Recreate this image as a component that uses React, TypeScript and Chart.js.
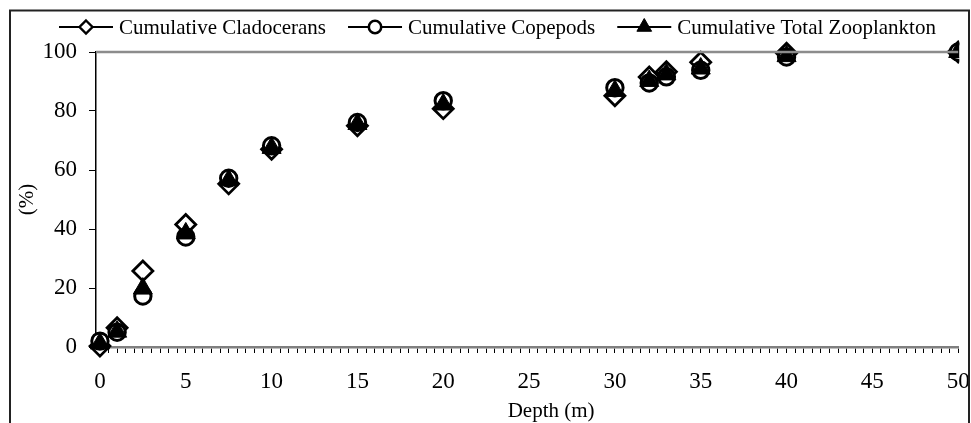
import { useEffect, useRef } from 'react';
import { Chart, registerables } from 'chart.js';

Chart.register(...registerables);

const depths = [0, 1, 2.5, 5, 7.5, 10, 15, 20, 30, 32, 33, 35, 40, 50];
const cladocerans = [0.3, 6.5, 25.8, 41.5, 55.3, 67, 75, 80.8, 85.2, 91.5, 93.3, 96.5, 99.6, 100];
const copepods = [2, 5, 17.3, 37.3, 57.2, 68.2, 76.1, 83.5, 87.9, 89.5, 91.6, 93.8, 98.3, 100];
const totalZoo = [1.2, 5.2, 19.8, 38.5, 56.5, 67.5, 75.6, 82.2, 86.8, 90.2, 92.4, 94.4, 98.6, 100];

const seriesLabels = ['Cumulative Cladocerans', 'Cumulative Copepods', 'Cumulative Total Zooplankton'];
const xMinorTicks = Array.from({ length: 101 }, (_, i) => i * 0.5);
const xLabelStep = 5;
const yTicks = [0, 20, 40, 60, 80, 100];
const xTitle = 'Depth (m)';
const yTitle = '(%)';

const FONT = '"Liberation Serif", "Times New Roman", serif';

function drawMarker(ctx: CanvasRenderingContext2D, style: string, x: number, y: number, r: number) {
  ctx.save();
  ctx.beginPath();
  if (style === 'rectRot') {
    ctx.moveTo(x, y - r);
    ctx.lineTo(x + r, y);
    ctx.lineTo(x, y + r);
    ctx.lineTo(x - r, y);
    ctx.closePath();
    ctx.fillStyle = '#fff';
    ctx.fill();
    ctx.lineWidth = 2.4;
    ctx.strokeStyle = '#000';
    ctx.stroke();
  } else if (style === 'circle') {
    ctx.arc(x, y, r, 0, Math.PI * 2);
    ctx.fillStyle = '#fff';
    ctx.fill();
    ctx.lineWidth = 2.6;
    ctx.strokeStyle = '#000';
    ctx.stroke();
  } else {
    ctx.moveTo(x, y - r);
    ctx.lineTo(x + r * 0.866, y + r * 0.5);
    ctx.lineTo(x - r * 0.866, y + r * 0.5);
    ctx.closePath();
    ctx.fillStyle = '#000';
    ctx.fill();
    ctx.lineWidth = 1;
    ctx.strokeStyle = '#000';
    ctx.stroke();
  }
  ctx.restore();
}

const decorPlugin = {
  id: 'decor',
  afterDraw(chart: any) {
    const ctx: CanvasRenderingContext2D = chart.ctx;
    const { left, right, top, bottom } = chart.chartArea;
    ctx.save();
    // plot top line
    ctx.strokeStyle = '#8c8c8c';
    ctx.lineWidth = 2.5;
    ctx.beginPath();
    ctx.moveTo(left, top);
    ctx.lineTo(right, top);
    ctx.stroke();

    // outer frame
    ctx.strokeStyle = '#222';
    ctx.lineWidth = 2;
    ctx.beginPath();
    ctx.moveTo(10, chart.height + 2);
    ctx.lineTo(10, 10.5);
    ctx.lineTo(969, 10.5);
    ctx.lineTo(969, chart.height + 2);
    ctx.stroke();

    // legend
    ctx.font = `21px ${FONT}`;
    ctx.fillStyle = '#000';
    ctx.textBaseline = 'middle';
    ctx.textAlign = 'left';
    const ly = 27;
    let lx = 59;
    const styles = ['rectRot', 'circle', 'triangle'];
    const sizes = [6.5, 6.2, 8.5];
    seriesLabels.forEach((label, i) => {
      ctx.strokeStyle = '#000';
      ctx.lineWidth = 2;
      ctx.beginPath();
      ctx.moveTo(lx, ly);
      ctx.lineTo(lx + 54, ly);
      ctx.stroke();
      drawMarker(ctx, styles[i], lx + 27, ly, sizes[i]);
      ctx.fillStyle = '#000';
      ctx.fillText(label, lx + 60, ly + 1);
      lx += 60 + ctx.measureText(label).width + 22;
    });

    // axis titles
    ctx.font = `21px ${FONT}`;
    ctx.textAlign = 'center';
    ctx.fillText(xTitle, (left + right) / 2 + 24, 411);
    ctx.translate(27, (top + bottom) / 2);
    ctx.rotate(-Math.PI / 2);
    ctx.fillText(yTitle, 0, 0);
    ctx.restore();
  },
};

export default function App() {
  const ref = useRef<HTMLCanvasElement>(null);
  useEffect(() => {
    const mk = (ys: number[]) => depths.map((x, i) => ({ x, y: ys[i] }));
    const clip = { left: false, top: false, right: 1, bottom: false } as any;
    const chart = new Chart(ref.current as HTMLCanvasElement, {
      type: 'scatter',
      data: {
        datasets: [
          {
            label: seriesLabels[0],
            data: mk(cladocerans),
            pointStyle: 'rectRot',
            pointRadius: 10,
            pointBorderWidth: 2.8,
            backgroundColor: '#fff',
            borderColor: '#000',
            order: 3,
            clip,
          },
          {
            label: seriesLabels[1],
            data: mk(copepods),
            pointStyle: 'circle',
            pointRadius: 8.2,
            pointBorderWidth: 3,
            backgroundColor: '#fff',
            borderColor: '#000',
            order: 2,
            clip,
          },
          {
            label: seriesLabels[2],
            data: mk(totalZoo),
            pointStyle: 'triangle',
            pointRadius: 11,
            pointBorderWidth: 1,
            backgroundColor: '#000',
            borderColor: '#000',
            order: 1,
            clip,
          },
        ],
      },
      options: {
        animation: false,
        responsive: false,
        layout: { padding: { top: 52, right: 3, left: 0, bottom: 0 } },
        plugins: { legend: { display: false }, tooltip: { enabled: false } },
        scales: {
          x: {
            type: 'linear',
            min: -0.23,
            max: 50,
            afterBuildTicks: (s: any) => {
              s.ticks = xMinorTicks.map((v) => ({ value: v }));
            },
            afterFit: (s: any) => {
              s.height = 76;
              s.paddingLeft = 0;
              s.paddingRight = 0;
            },
            ticks: {
              autoSkip: false,
              maxRotation: 0,
              padding: 15,
              color: '#000',
              font: { family: FONT, size: 23 },
              callback: (v: any) => (Number(v) % xLabelStep === 0 ? String(v) : ''),
            },
            grid: { drawOnChartArea: false, drawTicks: true, tickLength: 6, color: '#000', lineWidth: 1 },
            border: { display: true, color: '#808080', width: 2.5 },
          },
          y: {
            min: 0,
            max: 100,
            afterBuildTicks: (s: any) => {
              s.ticks = yTicks.map((v) => ({ value: v }));
            },
            afterFit: (s: any) => {
              s.width = 96;
              s.paddingTop = 0;
              s.paddingBottom = 0;
            },
            ticks: { padding: 12, color: '#000', font: { family: FONT, size: 23 } },
            grid: { drawOnChartArea: false, drawTicks: true, tickLength: 7, color: '#000', lineWidth: 1 },
            border: { display: true, color: '#000', width: 1.5 },
          },
        },
      },
      plugins: [decorPlugin],
    } as any);
    return () => chart.destroy();
  }, []);
  return (
    <div
      style={{ position: 'absolute', left: 0, top: 0, width: 971, height: 423, overflow: 'hidden', background: '#fff' }}
    >
      <canvas ref={ref} width={971} height={423} style={{ display: 'block', width: 971, height: 423 }} />
    </div>
  );
}
